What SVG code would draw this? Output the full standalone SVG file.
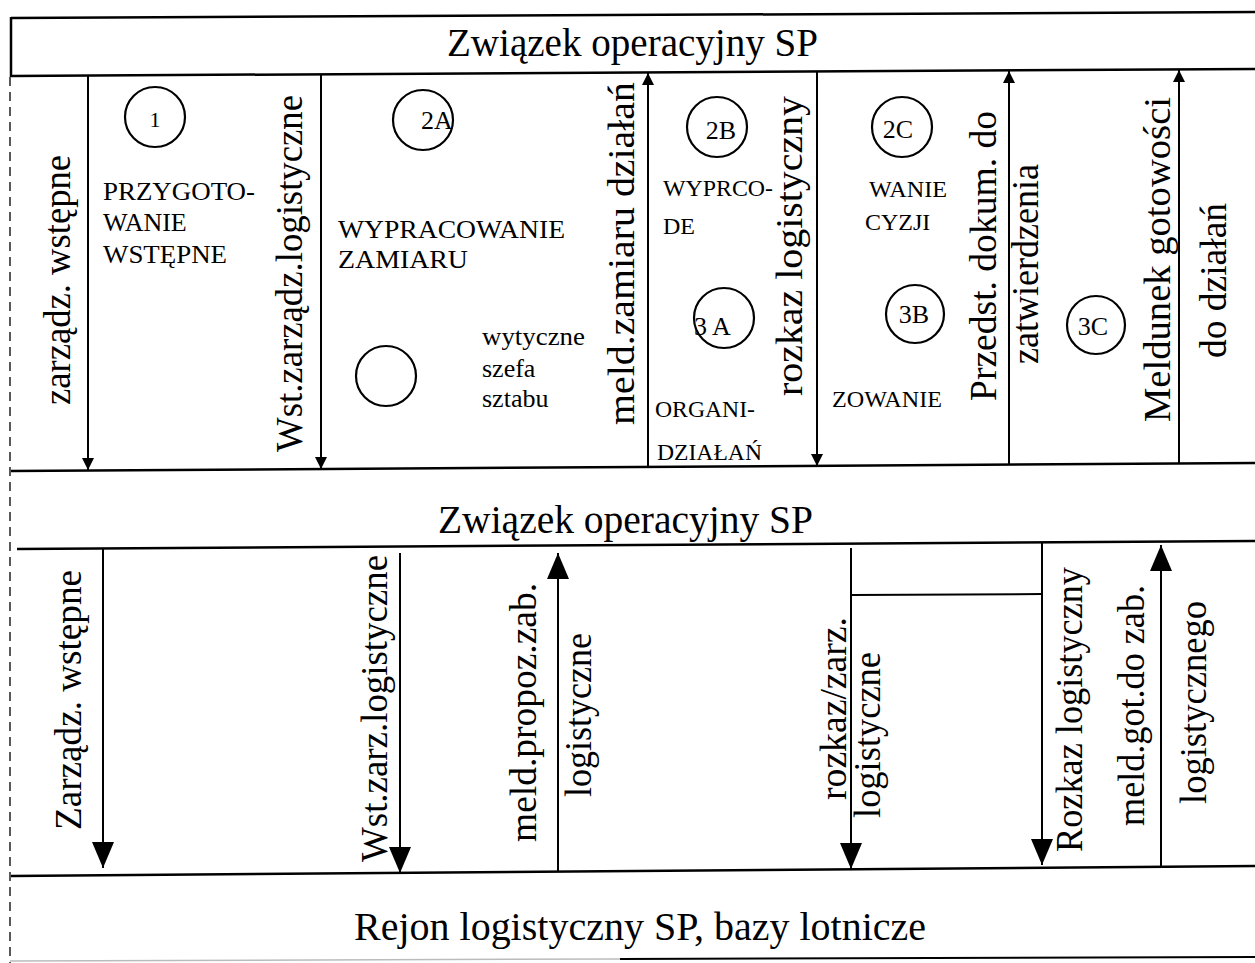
<svg xmlns="http://www.w3.org/2000/svg" width="1255" height="963" viewBox="0 0 1255 963">
<style>
text{font-family:"Liberation Serif","Times New Roman",serif;fill:#000}
.ttl{font-size:39px}
.lab{font-size:37px}
.cap{font-size:26px}
.sm{font-size:24px}
.cl{font-size:26px;text-anchor:middle}
.frame{stroke:#000;stroke-width:2.5;fill:none}
.dash{stroke:#000;stroke-width:1.3;stroke-dasharray:9 6;fill:none}
.c{fill:none;stroke:#000;stroke-width:2.2}
.ar{stroke:#000;stroke-width:2;fill:none}
.a1{marker-end:url(#hs)}
.a2{marker-end:url(#hl)}
</style>
<defs>
<marker id="hs" viewBox="0 0 12 12" markerWidth="12" markerHeight="12" refX="12" refY="6" orient="auto" markerUnits="userSpaceOnUse"><path d="M0,0 L12,6 L0,12 z" fill="#000"/></marker>
<marker id="hl" viewBox="0 0 26 22" markerWidth="26" markerHeight="22" refX="26" refY="11" orient="auto" markerUnits="userSpaceOnUse"><path d="M0,0 L26,11 L0,22 z" fill="#000"/></marker>
</defs>
<rect width="1255" height="963" fill="#fff"/>

<g id="frame">
<line class="frame" x1="11" y1="18" x2="1255" y2="12"/>
<line class="frame" x1="11" y1="76" x2="1255" y2="69"/>
<line class="frame" x1="11" y1="17" x2="11" y2="77"/>
<line class="frame" x1="11" y1="471" x2="1255" y2="463"/>
<line class="frame" x1="17" y1="549" x2="1255" y2="541"/>
<line class="frame" x1="11" y1="876" x2="1255" y2="866"/>
<line x1="10" y1="961" x2="620" y2="959" stroke="#bbb" stroke-width="1.5"/>
<line x1="620" y1="959" x2="1255" y2="957" stroke="#000" stroke-width="2"/>
<line class="dash" x1="10" y1="77" x2="10" y2="963"/>
</g>

<g id="n-top"><text class="ttl" x="447" y="56" textLength="371" lengthAdjust="spacingAndGlyphs">Związek operacyjny SP</text></g>
<g id="n-mid"><text class="ttl" x="438" y="533" textLength="375" lengthAdjust="spacingAndGlyphs">Związek operacyjny SP</text></g>
<g id="n-bottom"><text class="ttl" x="354" y="940" textLength="572" lengthAdjust="spacingAndGlyphs">Rejon logistyczny SP, bazy lotnicze</text></g>

<g id="n-1"><circle class="c" cx="155" cy="117" r="30"/><text class="cl" x="155" y="127" style="font-size:22px">1</text></g>
<g id="n-przyg">
<text class="cap" x="103" y="200" textLength="152" lengthAdjust="spacingAndGlyphs">PRZYGOTO-</text>
<text class="cap" x="103" y="231">WANIE</text>
<text class="cap" x="103" y="263" textLength="124" lengthAdjust="spacingAndGlyphs">WSTĘPNE</text>
</g>
<g id="n-2A"><circle class="c" cx="423" cy="120" r="30"/><text x="421" y="129" style="font-size:26px">2A</text></g>
<g id="n-wypr">
<text class="cap" x="338" y="238" textLength="227" lengthAdjust="spacingAndGlyphs">WYPRACOWANIE</text>
<text class="cap" x="338" y="268" textLength="130" lengthAdjust="spacingAndGlyphs">ZAMIARU</text>
</g>
<g id="n-empty"><circle class="c" cx="386" cy="376" r="30"/></g>
<g id="n-wyt">
<text class="cap" x="482" y="345" textLength="103" lengthAdjust="spacingAndGlyphs">wytyczne</text>
<text class="cap" x="482" y="377">szefa</text>
<text class="cap" x="482" y="407">sztabu</text>
</g>
<g id="n-2B"><circle class="c" cx="717" cy="127" r="30"/><text class="cl" x="721" y="139">2B</text></g>
<g id="n-wyprco">
<text class="sm" x="663" y="196" textLength="110" lengthAdjust="spacingAndGlyphs">WYPRCO-</text>
<text class="sm" x="663" y="234">DE</text>
</g>
<g id="n-3A"><circle class="c" cx="724" cy="318" r="30"/><text x="694" y="335" style="font-size:26px">3 A</text></g>
<g id="n-organi">
<text class="sm" x="655" y="417" textLength="100" lengthAdjust="spacingAndGlyphs">ORGANI-</text>
<text class="sm" x="657" y="460" textLength="105" lengthAdjust="spacingAndGlyphs">DZIAŁAŃ</text>
</g>
<g id="n-2C"><circle class="c" cx="902" cy="127" r="30"/><text class="cl" x="898" y="138">2C</text></g>
<g id="n-wanie">
<text class="sm" x="869" y="197" textLength="78" lengthAdjust="spacingAndGlyphs">WANIE</text>
<text class="sm" x="865" y="230">CYZJI</text>
</g>
<g id="n-3B"><circle class="c" cx="915" cy="314" r="29"/><text class="cl" x="914" y="323">3B</text></g>
<g id="n-zowanie"><text class="sm" x="832" y="407" textLength="110" lengthAdjust="spacingAndGlyphs">ZOWANIE</text></g>
<g id="n-3C"><circle class="c" cx="1096" cy="325" r="29"/><text class="cl" x="1093" y="335">3C</text></g>

<g id="connectors">
<line class="ar a1" x1="88" y1="76" x2="88" y2="470"/>
<line class="ar a1" x1="321" y1="75" x2="321" y2="469"/>
<line class="ar a1" x1="648" y1="467" x2="648" y2="73"/>
<line class="ar a1" x1="817" y1="72" x2="817" y2="466"/>
<line class="ar a1" x1="1009" y1="465" x2="1009" y2="71"/>
<line class="ar a1" x1="1179" y1="464" x2="1179" y2="70"/>

<line class="ar a2" x1="103" y1="548" x2="103" y2="868"/>
<line class="ar a2" x1="400" y1="553" x2="400" y2="873"/>
<line class="ar a2" x1="558" y1="872" x2="558" y2="553"/>
<line class="ar a2" x1="851" y1="548" x2="851" y2="869"/>
<line class="ar" x1="851" y1="595" x2="1042" y2="594"/>
<line class="ar a2" x1="1042" y1="542" x2="1042" y2="865"/>
<line class="ar a2" x1="1161" y1="867" x2="1161" y2="545"/>
</g>

<g id="labels-upper">
<text class="lab" transform="translate(70,405) rotate(-90)" textLength="250" lengthAdjust="spacingAndGlyphs">zarządz. wstępne</text>
<text class="lab" transform="translate(302,452) rotate(-90)" textLength="357" lengthAdjust="spacingAndGlyphs">Wst.zarządz.logistyczne</text>
<text class="lab" transform="translate(634,425) rotate(-90)" textLength="343" lengthAdjust="spacingAndGlyphs">meld.zamiaru działań</text>
<text class="lab" transform="translate(802,396) rotate(-90)" textLength="300" lengthAdjust="spacingAndGlyphs">rozkaz logistyczny</text>
<text class="lab" transform="translate(996,401) rotate(-90)" textLength="290" lengthAdjust="spacingAndGlyphs">Przedst. dokum. do</text>
<text class="lab" transform="translate(1038,364) rotate(-90)" textLength="200" lengthAdjust="spacingAndGlyphs">zatwierdzenia</text>
<text class="lab" transform="translate(1170,422) rotate(-90)" textLength="325" lengthAdjust="spacingAndGlyphs">Meldunek gotowości</text>
<text class="lab" transform="translate(1226,358) rotate(-90)" textLength="155" lengthAdjust="spacingAndGlyphs">do działań</text>
</g>

<g id="labels-lower">
<text class="lab" transform="translate(81,830) rotate(-90)" textLength="260" lengthAdjust="spacingAndGlyphs">Zarządz. wstępne</text>
<text class="lab" transform="translate(387,862) rotate(-90)" textLength="307" lengthAdjust="spacingAndGlyphs">Wst.zarz.logistyczne</text>
<text class="lab" transform="translate(536,842) rotate(-90)" textLength="259" lengthAdjust="spacingAndGlyphs">meld.propoz.zab.</text>
<text class="lab" transform="translate(591,797) rotate(-90)" textLength="164" lengthAdjust="spacingAndGlyphs">logistyczne</text>
<text class="lab" transform="translate(846,800) rotate(-90)" textLength="183" lengthAdjust="spacingAndGlyphs">rozkaz/zarz.</text>
<text class="lab" transform="translate(880,818) rotate(-90)" textLength="166" lengthAdjust="spacingAndGlyphs">logistyczne</text>
<text class="lab" transform="translate(1082,852) rotate(-90)" textLength="285" lengthAdjust="spacingAndGlyphs">Rozkaz logistyczny</text>
<text class="lab" transform="translate(1144,826) rotate(-90)" textLength="241" lengthAdjust="spacingAndGlyphs">meld.got.do zab.</text>
<text class="lab" transform="translate(1206,804) rotate(-90)" textLength="203" lengthAdjust="spacingAndGlyphs">logistycznego</text>
</g>
</svg>
